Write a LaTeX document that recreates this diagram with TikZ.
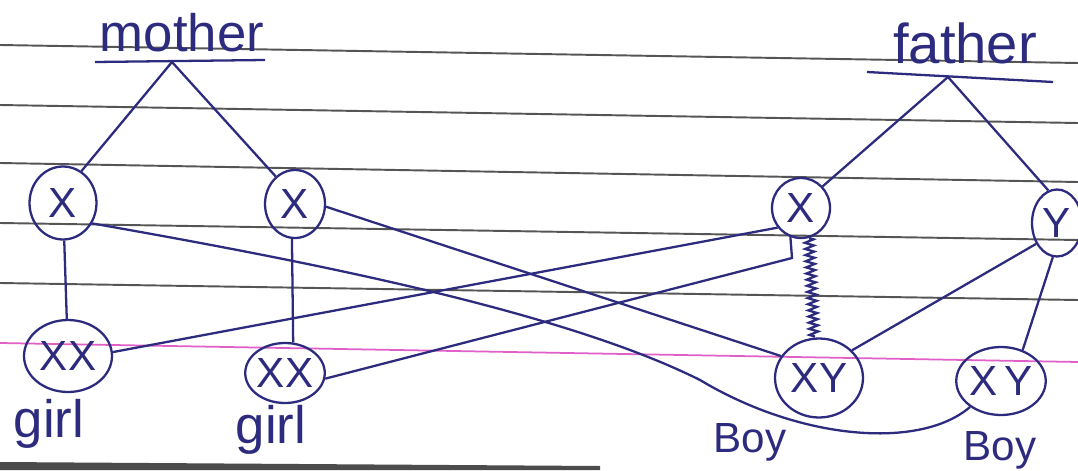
\documentclass[tikz,border=0pt]{standalone}
\usepackage{fontspec}
\setmainfont{Liberation Sans}
\usetikzlibrary{shapes.geometric, decorations.pathmorphing}

\begin{document}
\begin{tikzpicture}[x=0.02cm, y=-0.02cm,
  chromo/.style={draw=inkblue, ellipse, line width=1.3pt, inner sep=0pt, text=inkblue, font=\fontsize{24}{26}\selectfont},
  ink/.style={draw=inkblue, line width=1.3pt},
  tag/.style={text=inkblue, inner sep=0pt, font=\fontsize{30}{32}\selectfont}]
  % Define colors
  \definecolor{inkblue}{HTML}{2D2B7E}
  \definecolor{ruleline}{HTML}{555555}
  \definecolor{marginpink}{HTML}{E060C8}

  % Ruled paper
  \useasboundingbox (0,0) rectangle (1078,470);
  \fill[white] (0,0) rectangle (1078,470);
  \foreach \yl/\yr in {45/63, 105/123, 163/182, 223/240, 283/300}
    \draw[ruleline, line width=1.1pt] (0,\yl) -- (1078,\yr);
  \draw[marginpink, line width=1pt] (0,343) -- (1078,362);
  \fill[black!70] (0,462) -- (600,466) -- (600,470) -- (0,470) -- cycle;

  % Parents
  \node[tag] (mother) at (182,33) {mother};
  \draw[ink] (95,62) -- (265,60);
  \coordinate (mtop) at (172,62);
  \node[tag, font=\fontsize{32}{34}\selectfont] (father) at (965,43) {father};
  \draw[ink] (867,72) -- (1053,82);
  \coordinate (ftop) at (948,77);

  % Gametes
  \node[chromo, minimum width=1.34cm, minimum height=1.46cm] (mx1) at (63,203) {X};
  \node[chromo, minimum width=1.2cm, minimum height=1.36cm] (mx2) at (295,204) {X};
  \node[chromo, minimum width=1.16cm, minimum height=1.2cm] (fx) at (801,208) {X};
  \node[chromo, minimum width=1cm, minimum height=1.34cm] (fy) at (1057,223) {Y};

  % Children
  \node[chromo, minimum width=1.76cm, minimum height=1.44cm] (xx1) at (68,356) {XX};
  \node[chromo, minimum width=1.32cm, minimum height=1.2cm] (xx2) at (285,373) {XX};
  \node[chromo, minimum width=1.76cm, minimum height=1.58cm] (xy1) at (819,378) {XY};
  \node[chromo, minimum width=1.74cm, minimum height=1.36cm] (xy2) at (1001,381) {X\,Y};

  % Labels
  \node[tag] (girl1) at (49,424) {girl};
  \node[tag] (girl2) at (271,430) {girl};
  \node[tag, font=\fontsize{24}{26}\selectfont] (boy1) at (750,442) {Boy};
  \node[tag, font=\fontsize{24}{26}\selectfont] (boy2) at (1000,450) {Boy};

  % Parent to gametes
  \draw[ink] (mtop) -- (mx1.60);
  \draw[ink] (mtop) -- (mx2.125);
  \draw[ink] (ftop) -- (fx.45);
  \draw[ink] (ftop) -- (fy.105);

  % Gametes to children
  \draw[ink] (mx1) -- (xx1);
  \draw[ink] (mx2.-95) -- (xx2.75);
  \draw[ink] (mx2.-5) -- (xy1.150);
  \draw[ink] (mx1.-35) .. controls (300,260) and (560,310) .. (700,380)
    .. controls (800,440) and (920,450) .. (xy2.-140);
  \draw[ink] (xx1.5) -- (fx.-140);
  \draw[ink] (xx2.-8) -- (792,258) -- (fx.-110);
  \draw[ink, decorate, decoration={zigzag, amplitude=2.5pt, segment length=3.5pt}] (fx.-75) -- (xy1.97);
  \draw[ink] (fy.-135) -- (xy1.40);
  \draw[ink] (fy.-97) -- (xy2.55);
\end{tikzpicture}
\end{document}
